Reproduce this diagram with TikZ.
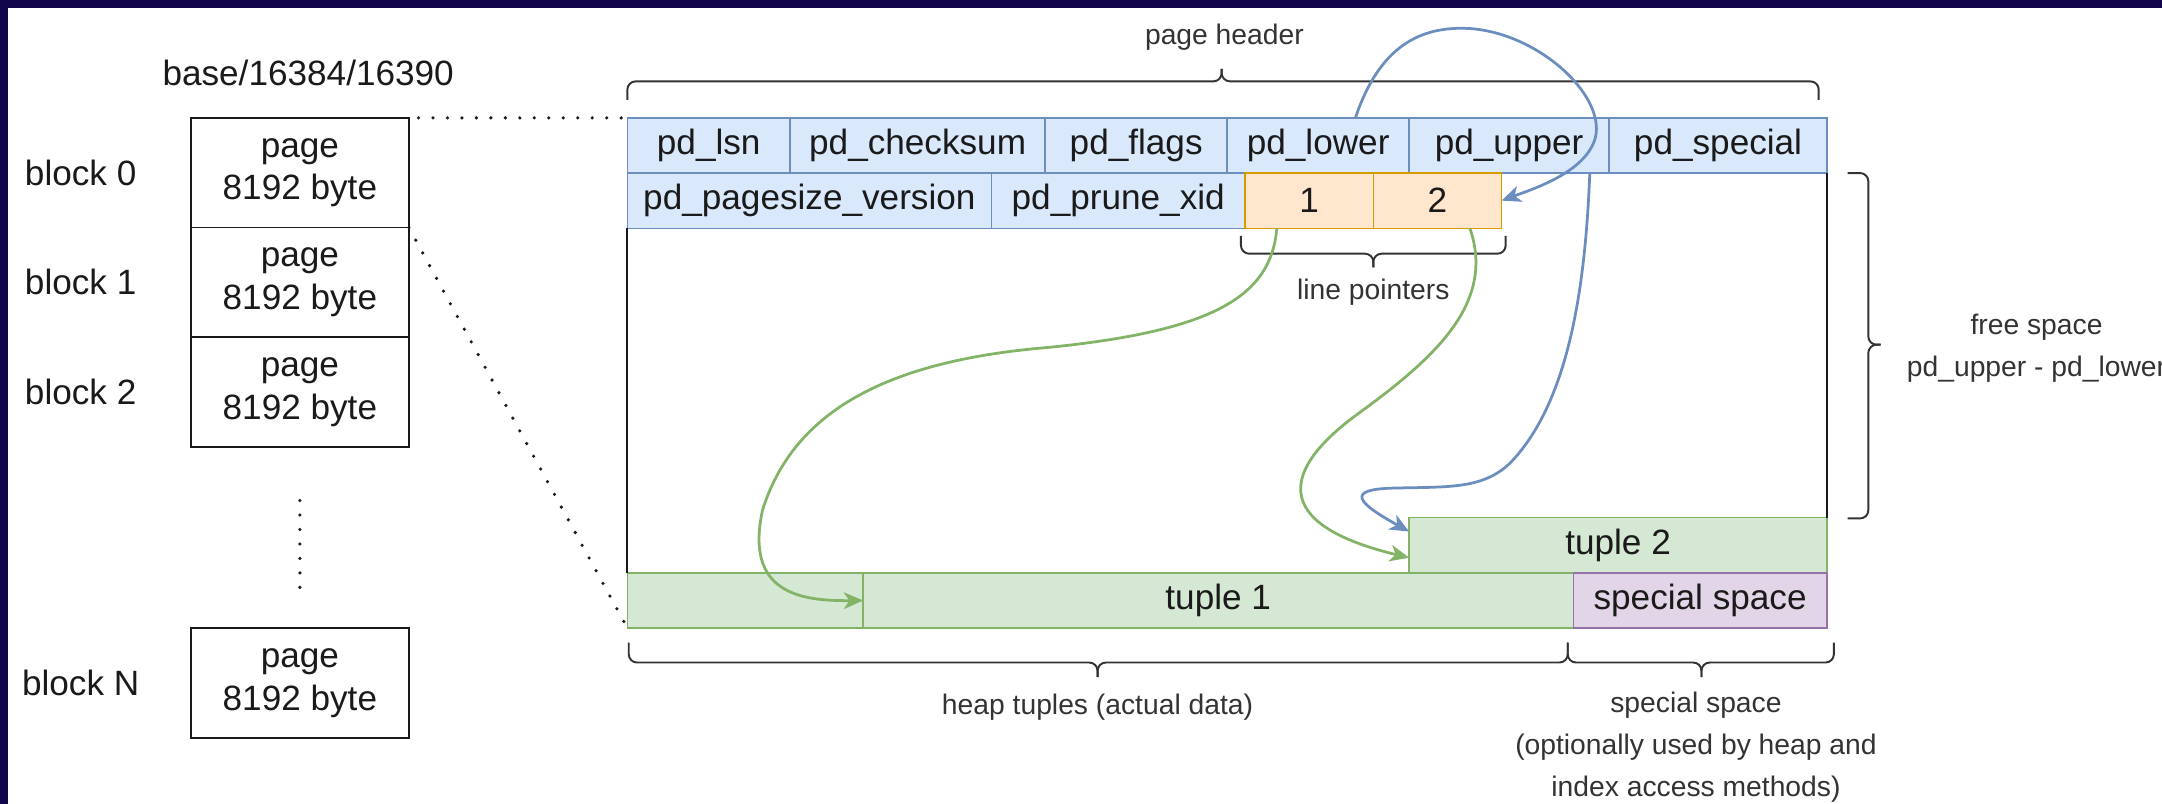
\documentclass[tikz,border=0pt]{standalone}
\usepackage{fontspec}
\setmainfont{Liberation Sans}
\usetikzlibrary{arrows.meta}
\definecolor{framebg}{HTML}{12054A}
\definecolor{hdrfill}{HTML}{DAE8FC}
\definecolor{hdrline}{HTML}{6C8EBF}
\definecolor{lpfill}{HTML}{FFE6CC}
\definecolor{lpline}{HTML}{D79B00}
\definecolor{tupfill}{HTML}{D5E8D4}
\definecolor{tupline}{HTML}{82B366}
\definecolor{spcfill}{HTML}{E1D5E7}
\definecolor{spcline}{HTML}{9673A6}
\definecolor{ink}{HTML}{1A1A1A}
\definecolor{note}{HTML}{333333}
\begin{document}
\begin{tikzpicture}[x = 1pt, y = -1pt,
        bigtext/.style = {font = \fontsize{25.5}{31}\selectfont, text = ink},
        smalltext/.style = {font = \fontsize{20.5}{30.5}\selectfont, text = note},
        cell/.style = {bigtext, draw, line width = 1pt, minimum height = 40pt, inner sep = 0pt, outer sep = 0pt, anchor = north west},
        hdr/.style = {cell, fill = hdrfill, draw = hdrline},
        lp/.style = {cell, fill = lpfill, draw = lpline},
        tup/.style = {cell, fill = tupfill, draw = tupline},
        spc/.style = {cell, fill = spcfill, draw = spcline},
        blockbox/.style = {bigtext, draw = ink, line width = 1.3pt, minimum width = 158pt, minimum height = 79.5pt, inner sep = 0pt, outer sep = 0pt, align = center, anchor = north west},
        bracket/.style = {draw = note, line width = 1.4pt, rounded corners = 6pt},
        dots/.style = {draw = ink, line width = 2.6pt, line cap = round, dash pattern = on 0pt off 10.5pt},
        greenflow/.style = {draw = tupline, line width = 2pt, -{Stealth[length = 14pt, width = 12pt, inset = 4pt]}},
        blueflow/.style = {draw = hdrline, line width = 2pt, -{Stealth[length = 14pt, width = 12pt, inset = 4pt]}}]
        \useasboundingbox (0, 0) rectangle (1568, 583);
        \fill [framebg] (0, 0) rectangle (1568, 5.5);
        \fill [framebg] (0, 0) rectangle (6, 583);
        \node [bigtext] (file) at (223.5, 53) {base/16384/16390};
        \node [blockbox] (b0) at (138.5, 85.5) {page\\8192 byte};
        \node [blockbox] (b1) at (138.5, 165) {page\\8192 byte};
        \node [blockbox] (b2) at (138.5, 244.5) {page\\8192 byte};
        \node [blockbox] (bN) at (138.5, 455.5) {page\\8192 byte};
        \node [bigtext] (l0) at ([xshift = -80pt]b0.west) {block 0};
        \node [bigtext] (l1) at ([xshift = -80pt]b1.west) {block 1};
        \node [bigtext] (l2) at ([xshift = -80pt]b2.west) {block 2};
        \node [bigtext] (lN) at ([xshift = -80pt]bN.west) {block N};
        \node [hdr, minimum width = 118pt] (lsn) at (455, 85.5) {pd\_lsn};
        \node [hdr, minimum width = 185pt] (cks) at (lsn.north east) {pd\_checksum};
        \node [hdr, minimum width = 132pt] (flg) at (cks.north east) {pd\_flags};
        \node [hdr, minimum width = 132pt] (low) at (flg.north east) {pd\_lower};
        \node [hdr, minimum width = 145pt] (upp) at (low.north east) {pd\_upper};
        \node [hdr, minimum width = 158pt] (spl) at (upp.north east) {pd\_special};
        \node [hdr, minimum width = 264pt] (ver) at (lsn.south west) {pd\_pagesize\_version};
        \node [hdr, minimum width = 184pt] (xid) at (ver.north east) {pd\_prune\_xid};
        \node [lp, minimum width = 93pt] (lp1) at (xid.north east) {1};
        \node [lp, minimum width = 93pt] (lp2) at (lp1.north east) {2};
        \node [tup, minimum width = 303pt] (tup2) at (1022, 375.5) {tuple 2};
        \node [tup, minimum width = 171pt] (tup0) at (455, 415.5) {};
        \node [tup, minimum width = 515pt] (tup1) at (tup0.north east) {tuple 1};
        \node [spc, minimum width = 184pt] (spc) at (tup1.north east) {special space};
        \draw [line width = 1.3pt, ink] (ver.south west) -- (tup0.north west);
        \draw [line width = 1.3pt, ink] (spl.south east) -- (tup2.north east);
        \draw [dots, shorten < = 7pt] (b0.north east) -- (lsn.north west);
        \draw [dots] (b0.south east) -- (tup0.south west);
        \draw [dots] ([yshift = -39pt]b2.south) -- ([yshift = 27.5pt]bN.north);
        \draw [bracket] (455, 72.5) -- (455, 59) -- (886, 59) -- (886, 50);
        \draw [bracket] (886, 50) -- (886, 59) -- (1319, 59) -- (1319, 72.5);
        \draw [bracket] (900, 171) -- (900, 184) -- (996, 184) -- (996, 194);
        \draw [bracket] (996, 194) -- (996, 184) -- (1092, 184) -- (1092, 171);
        \draw [bracket] (1340, 125.5) -- (1355, 125.5) -- (1355, 250) -- (1364, 250);
        \draw [bracket] (1364, 250) -- (1355, 250) -- (1355, 376) -- (1340, 376);
        \draw [bracket] (456, 466) -- (456, 480.5) -- (796, 480.5) -- (796, 491);
        \draw [bracket] (796, 491) -- (796, 480.5) -- (1137, 480.5) -- (1137, 466);
        \draw [bracket] (1137, 466) -- (1137, 480.5) -- (1234, 480.5) -- (1234, 491);
        \draw [bracket] (1234, 491) -- (1234, 480.5) -- (1330, 480.5) -- (1330, 466);
        \node [smalltext] (hdrlbl) at (888, 27) {page header};
        \node [smalltext] (lplbl) at (996, 212) {line pointers};
        \node [smalltext, align = center] (freelbl) at (1477, 252.5) {free space\\pd\_upper - pd\_lower};
        \node [smalltext] (heaplbl) at (796, 513) {heap tuples (actual data)};
        \node [smalltext, align = center] (spclbl) at (1230, 542) {special space\\(optionally used by heap and\\index access methods)};
        \draw [blueflow] ([xshift = 27pt]low.north) .. controls (1000, 35) and (1028, 20.5) .. (1060, 20.5) .. controls (1112, 20.5) and (1165, 68) .. (1157, 100) .. controls (1150, 125) and (1112, 137) .. (lp2.east);
        \draw [blueflow] ([xshift = 58.5pt]upp.south) .. controls (1150, 200) and (1140, 290) .. (1095, 336) .. controls (1075, 355) and (1050, 353) .. (1010, 354) .. controls (975, 355) and (985, 365) .. ([yshift = -10pt]tup2.north west);
        \draw [greenflow] ([xshift = -23.5pt]lp1.south) .. controls (922, 215) and (880, 240) .. (760, 252) .. controls (640, 262) and (575, 300) .. (553, 370) .. controls (540, 430) and (580, 436) .. (tup1.west);
        \draw [greenflow] ([xshift = 23.5pt]lp2.south) .. controls (1085, 220) and (1040, 260) .. (985, 300) .. controls (930, 340) and (920, 380) .. ([yshift = -9pt]tup2.west);
    \end{tikzpicture}
\end{document}
